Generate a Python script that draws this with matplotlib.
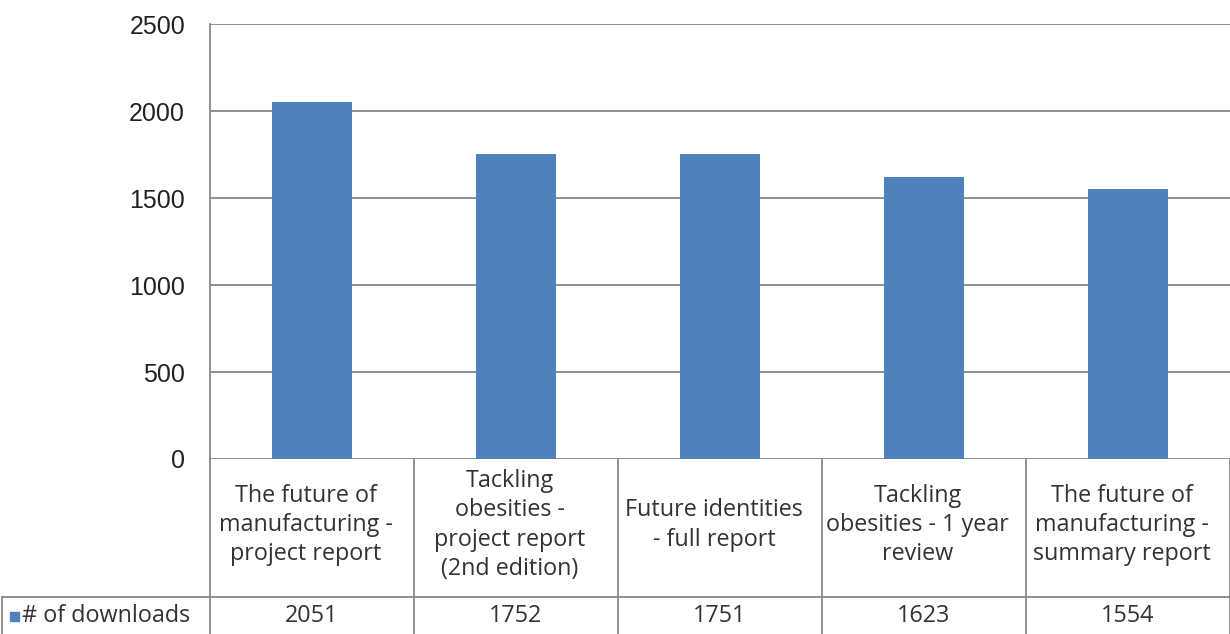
import matplotlib
matplotlib.use("Agg")
import matplotlib.pyplot as plt
from matplotlib.transforms import blended_transform_factory
from matplotlib.patches import Rectangle

categories = [
    "The future of\nmanufacturing -\nproject report",
    "Tackling\nobesities -\nproject report\n(2nd edition)",
    "Future identities\n- full report",
    "Tackling\nobesities - 1 year\nreview",
    "The future of\nmanufacturing -\nsummary report",
]
downloads = [2051, 1752, 1751, 1623, 1554]
series_name = "# of downloads"
yticks = [0, 500, 1000, 1500, 2000, 2500]

W, H = 1230, 634
fig = plt.figure(figsize=(W / 100, H / 100), dpi=100)
ax_left, ax_right, ax_top, ax_bottom = 210, 1230, 24, 459
ax = fig.add_axes([ax_left / W, 1 - ax_bottom / H, (ax_right - ax_left) / W, (ax_bottom - ax_top) / H])

bar_color = "#4F81BD"
grid_color = "#878787"
n = len(categories)
x = list(range(n))
ax.bar(x, downloads, width=0.39, color=bar_color, zorder=3)
ax.set_xlim(-0.5, n - 0.5)
ax.set_ylim(0, 2500)
ax.set_yticks(yticks)
ax.set_yticklabels([str(t) for t in yticks], fontsize=18, family="Liberation Sans", color="#222222")
ax.tick_params(axis="y", length=0, pad=18)
ax.set_xticks([])
for t in yticks:
    ax.axhline(t, color=grid_color, lw=1.3, zorder=1)
for s in ["top", "right", "bottom"]:
    ax.spines[s].set_visible(False)
ax.spines["left"].set_color(grid_color)
ax.spines["left"].set_linewidth(1.3)

# data table below the axes (pixel-based rows)
row1_bottom = 597
row2_bottom = 634
trans = blended_transform_factory(ax.transData, fig.transFigure)
fy = lambda py: 1 - py / H
line_kw = dict(color=grid_color, lw=1.3, clip_on=False)

for i in range(n + 1):
    xb = i - 0.5
    ax.plot([xb, xb], [fy(ax_bottom), fy(row2_bottom)], transform=trans, **line_kw)
ax.plot([-0.5, n - 0.5], [fy(row1_bottom), fy(row1_bottom)], transform=trans, **line_kw)
fig.add_artist(plt.Line2D([2 / W, ax_left / W], [fy(row1_bottom), fy(row1_bottom)], color=grid_color, lw=1.3))
fig.add_artist(plt.Line2D([2 / W, 2 / W], [fy(row1_bottom), fy(row2_bottom)], color=grid_color, lw=1.3))

cat_font = dict(family="Open Sans", fontsize=16.8, color="#333333")
for i, c in enumerate(categories):
    ax.text(i - 0.03, fy((ax_bottom + row1_bottom) / 2 - 3), c, transform=trans, ha="center", va="center",
            linespacing=1.3, **cat_font)
    ax.text(i, fy((row1_bottom + row2_bottom) / 2 + 1), str(downloads[i]), transform=trans,
            ha="center", va="center", **cat_font)

fig.add_artist(Rectangle((10 / W, fy(621)), 9 / W, 9 / H, color=bar_color, transform=fig.transFigure))
fig.text(22 / W, fy(616), series_name, ha="left", va="center", **cat_font)

fig.savefig("out.png", dpi=100)
